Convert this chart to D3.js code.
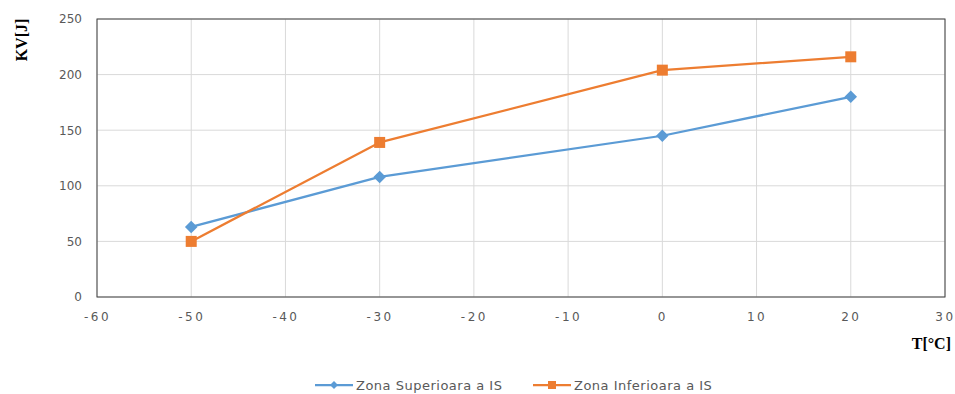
<!DOCTYPE html>
<html><head><meta charset="utf-8">
<script src="https://cdn.jsdelivr.net/npm/d3@7"></script>
<style>body{margin:0;background:#fff}</style>
</head><body>
<script>
const temps = [-50, -30, 0, 20];
const superioara = [63, 108, 145, 180];
const inferioara = [50, 139, 204, 216];
const xTicks = [-60, -50, -40, -30, -20, -10, 0, 10, 20, 30];
const yTicks = [0, 50, 100, 150, 200, 250];
const seriesNames = ["Zona Superioara a IS", "Zona Inferioara a IS"];
const colors = ["#5B9BD5", "#ED7D31"];

const W = 955, H = 394;
const svg = d3.select("body").append("svg").attr("width", W).attr("height", H);
const x = d3.scaleLinear().domain([-60, 30]).range([97, 945]);
const y = d3.scaleLinear().domain([0, 250]).range([297, 19]);

// grid
svg.append("g").selectAll("line").data(xTicks).join("line")
  .attr("x1", d => x(d)).attr("x2", d => x(d)).attr("y1", y(0)).attr("y2", y(250))
  .attr("stroke", "#d9d9d9").attr("stroke-width", 1);
svg.append("g").selectAll("line").data(yTicks).join("line")
  .attr("x1", x(-60)).attr("x2", x(30)).attr("y1", d => y(d)).attr("y2", d => y(d))
  .attr("stroke", "#d9d9d9").attr("stroke-width", 1);
// frame
svg.append("rect").attr("x", x(-60)).attr("y", y(250)).attr("width", x(30) - x(-60)).attr("height", y(0) - y(250))
  .attr("fill", "none").attr("stroke", "#404040").attr("stroke-width", 1);

// axes
const xAxis = svg.append("g").attr("transform", `translate(0,${y(0)})`)
  .call(d3.axisBottom(x).tickValues(xTicks).tickSize(0).tickPadding(15).tickFormat(d => String(d)));
xAxis.select(".domain").remove();
xAxis.selectAll("text").attr("font-family", "DejaVu Sans, Verdana, sans-serif").attr("font-size", 12)
  .attr("fill", "#595959").attr("letter-spacing", "2.5px");
const yAxis = svg.append("g").attr("transform", `translate(${x(-60)},0)`)
  .call(d3.axisLeft(y).tickValues(yTicks).tickSize(0).tickPadding(15));
yAxis.select(".domain").remove();
yAxis.selectAll("text").attr("font-family", "DejaVu Sans, Verdana, sans-serif").attr("font-size", 12)
  .attr("fill", "#595959");

// axis titles
svg.append("text").attr("transform", "translate(27,40) rotate(-90)").attr("text-anchor", "middle")
  .attr("font-family", "Liberation Serif, Times New Roman, serif").attr("font-weight", "bold").attr("font-size", 16)
  .attr("fill", "#000").text("KV[J]");
svg.append("text").attr("x", 951).attr("y", 349).attr("text-anchor", "end")
  .attr("font-family", "Liberation Serif, Times New Roman, serif").attr("font-weight", "bold").attr("font-size", 16)
  .attr("fill", "#000").text("T[°C]");

const line = d3.line().x(d => x(d[0])).y(d => y(d[1]));
const data = [superioara, inferioara].map(v => temps.map((t, i) => [t, v[i]]));

data.forEach((pts, si) => {
  svg.append("path").datum(pts).attr("d", line).attr("fill", "none")
    .attr("stroke", colors[si]).attr("stroke-width", 2.25).attr("stroke-linejoin", "round");
});
// markers
svg.append("g").selectAll("path").data(data[0]).join("path")
  .attr("transform", d => `translate(${x(d[0])},${y(d[1])})`)
  .attr("d", d3.symbol(d3.symbolDiamond2, 100)).attr("fill", colors[0]);
svg.append("g").selectAll("rect").data(data[1]).join("rect")
  .attr("x", d => x(d[0]) - 5.5).attr("y", d => y(d[1]) - 5.5).attr("width", 11).attr("height", 11)
  .attr("fill", colors[1]);

// legend
const legendX = [315, 533];
seriesNames.forEach((name, i) => {
  const g = svg.append("g").attr("transform", `translate(${legendX[i]},385)`);
  g.append("line").attr("x1", 0).attr("x2", 38).attr("y1", 0).attr("y2", 0)
    .attr("stroke", colors[i]).attr("stroke-width", 2.25);
  if (i === 0) {
    g.append("path").attr("transform", "translate(19,0)").attr("d", d3.symbol(d3.symbolDiamond2, 40)).attr("fill", colors[i]);
  } else {
    g.append("rect").attr("x", 15).attr("y", -4).attr("width", 8).attr("height", 8).attr("fill", colors[i]);
  }
  g.append("text").attr("x", 41).attr("y", 4.5).attr("font-family", "DejaVu Sans, Verdana, sans-serif")
    .attr("font-size", 13).attr("letter-spacing", "0.5px").attr("fill", "#595959").text(name);
});
</script>
</body></html>
